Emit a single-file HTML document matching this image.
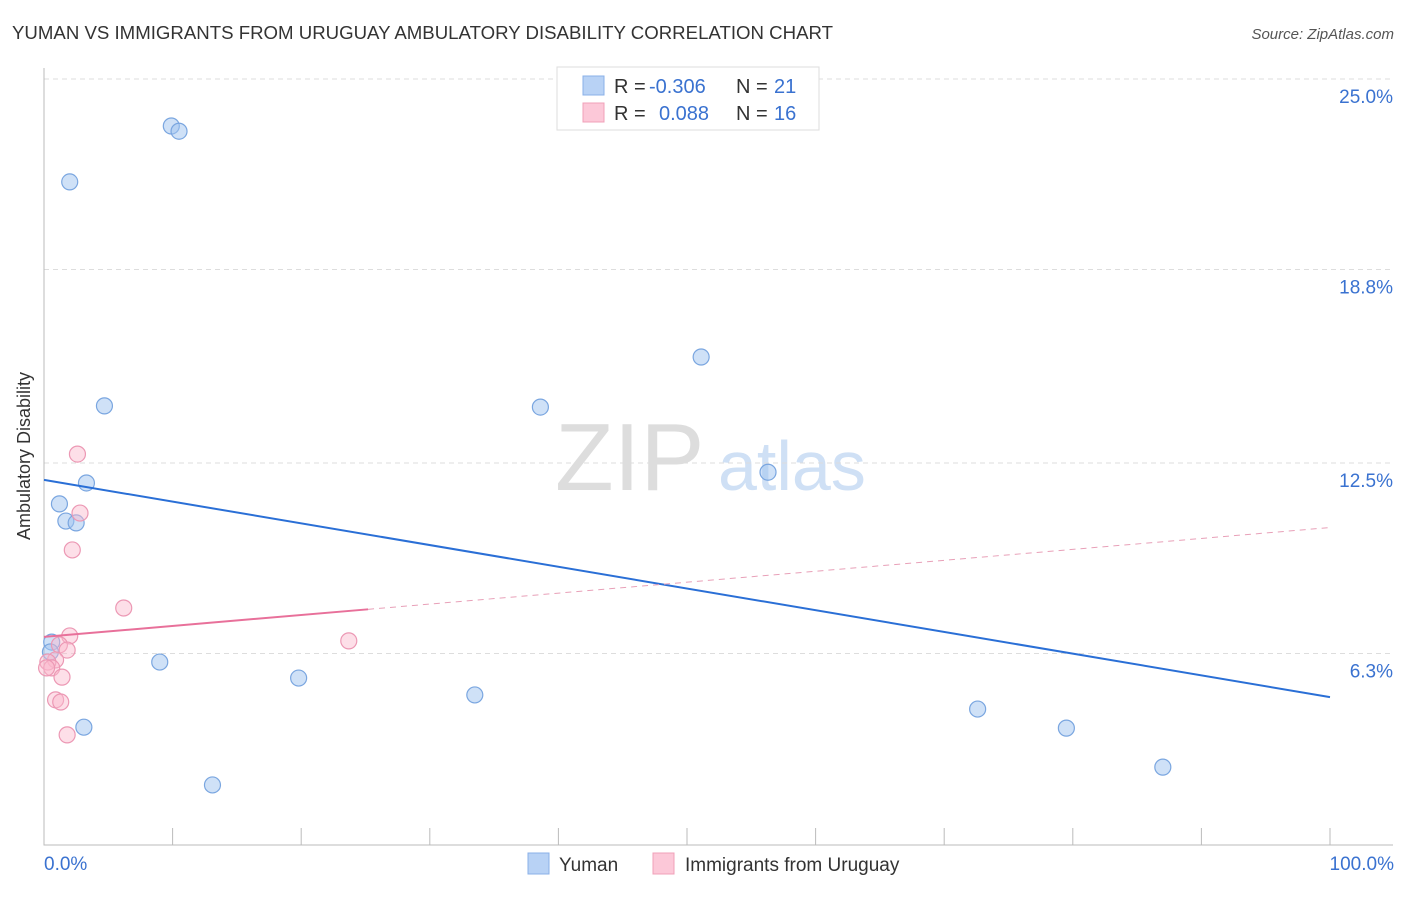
<!DOCTYPE html>
<html><head><meta charset="utf-8"><style>
body{margin:0;background:#fff;font-family:"Liberation Sans",sans-serif;}
svg text{font-family:"Liberation Sans",sans-serif;}
</style></head><body>
<svg id="c" width="1406" height="892" xmlns="http://www.w3.org/2000/svg">
<text x="12" y="39" font-size="18" fill="#333" textLength="821" lengthAdjust="spacingAndGlyphs">YUMAN VS IMMIGRANTS FROM URUGUAY AMBULATORY DISABILITY CORRELATION CHART</text>
<text x="1394" y="39" font-size="15" fill="#555" font-style="italic" text-anchor="end">Source: ZipAtlas.com</text>
<text x="30" y="456" font-size="18" fill="#333" text-anchor="middle" transform="rotate(-90 30 456)">Ambulatory Disability</text>
<text x="555" y="490" font-size="96" fill="#ddd" font-family="Liberation Serif">ZIP</text>
<text x="718" y="490" font-size="70" fill="#cfe0f5">atlas</text>
<g id="grid"></g><g id="marks"></g>
<g>
<rect x="557" y="67" width="262" height="63" fill="#fff" stroke="#ddd"/>
<rect x="583" y="76" width="21" height="19" fill="#b8d2f5" stroke="#8ab0e8"/>
<rect x="583" y="103" width="21" height="19" fill="#fcc8d8" stroke="#f0a0b8"/>
<text y="93" font-size="20" fill="#333"><tspan x="614">R =</tspan><tspan x="649" fill="#3a72d0">-0.306</tspan><tspan x="736">N =</tspan><tspan x="774" fill="#3a72d0">21</tspan></text>
<text y="120" font-size="20" fill="#333"><tspan x="614">R =</tspan><tspan x="659" fill="#3a72d0">0.088</tspan><tspan x="736">N =</tspan><tspan x="774" fill="#3a72d0">16</tspan></text>
</g>
<g>
<rect x="528" y="853" width="21" height="21" fill="#b8d2f5" stroke="#8ab0e8"/>
<text x="559" y="871" font-size="19" fill="#333">Yuman</text>
<rect x="653" y="853" width="21" height="21" fill="#fcc8d8" stroke="#f0a0b8"/>
<text x="685" y="871" font-size="19" fill="#333">Immigrants from Uruguay</text>
</g>
<text x="44" y="870" font-size="19" fill="#3a72d0">0.0%</text>
<text x="1394" y="870" font-size="19" fill="#3a72d0" text-anchor="end">100.0%</text>
</svg>
<script>
const yTicks=[25.0,18.8,12.5,6.3];
const yumanX=[9.9,10.5,2.0,51.1,4.7,38.6,56.3,3.3,1.2,1.7,2.5,0.6,0.5,9.0,19.8,33.5,72.6,3.1,79.5,87.0,13.1];
const yumanY=[23.47,23.3,21.65,15.95,14.36,14.32,12.2,11.85,11.17,10.61,10.55,6.67,6.35,6.02,5.5,4.95,4.49,3.9,3.87,2.6,2.02];
const uruX=[2.6,2.8,2.2,6.2,2.0,23.7,1.2,1.8,0.9,0.3,0.6,1.4,0.9,1.3,1.8,0.2];
const uruY=[12.79,10.87,9.67,7.78,6.87,6.71,6.58,6.41,6.09,6.02,5.83,5.53,4.79,4.72,3.65,5.83];
const yumanTrend=[11.95,4.88];
const uruTrend=[6.84,10.4];
const uruSolidEnd=25.2;
const NS="http://www.w3.org/2000/svg";
const sx=v=>44+v*12.86, sy=v=>847-v*30.72;
const g=document.getElementById('grid'), m=document.getElementById('marks');
function el(t,a,p){const e=document.createElementNS(NS,t);for(const k in a)e.setAttribute(k,a[k]);p.appendChild(e);return e;}
yTicks.forEach(t=>{
 const l=el('line',{x1:44,x2:1393,y1:sy(t),y2:sy(t),stroke:'#ddd','stroke-dasharray':'5,4'},g);
 
 
 const tx=el('text',{x:1393,y:sy(t)+24,'font-size':19,fill:'#3a72d0','text-anchor':'end'},g);
 tx.textContent=t.toFixed(1)+'%';
 
 
});
const ax=el('path',{d:'M44 68V845H1393',stroke:'#bbb',fill:'none'},g);


for(let i=1;i<=10;i++){const t=el('line',{x1:sx(i*10),x2:sx(i*10),y1:828,y2:845,stroke:'#bbb'},g);
 
 }
yumanX.forEach((x,i)=>{const c=el('circle',{cx:sx(x),cy:sy(yumanY[i]),r:8,fill:'rgba(160,195,240,0.5)',stroke:'#7aa6e0','stroke-width':1.2},m);
 
 });
uruX.forEach((x,i)=>{const c=el('circle',{cx:sx(x),cy:sy(uruY[i]),r:8,fill:'rgba(250,185,205,0.45)',stroke:'#ec98b4','stroke-width':1.2},m);
 
 });
const yl=el('line',{x1:sx(0),y1:sy(yumanTrend[0]),x2:sx(100),y2:sy(yumanTrend[1]),stroke:'#2a6fd6','stroke-width':2},m);


const um=uruTrend[0]+(uruTrend[1]-uruTrend[0])*uruSolidEnd/100;
const ul=el('line',{x1:sx(0),y1:sy(uruTrend[0]),x2:sx(uruSolidEnd),y2:sy(um),stroke:'#e8709a','stroke-width':2},m);


const ud=el('line',{x1:sx(uruSolidEnd),y1:sy(um),x2:sx(100),y2:sy(uruTrend[1]),stroke:'#e8a0b8','stroke-width':1,'stroke-dasharray':'6,5'},m);


</script>
</body></html>
